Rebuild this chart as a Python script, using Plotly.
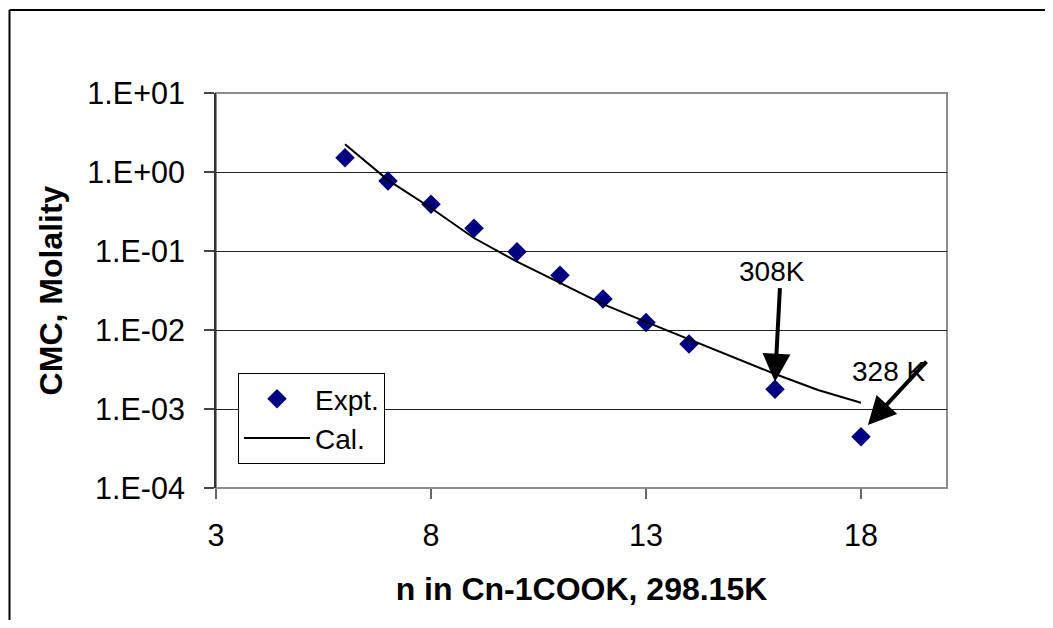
import plotly.graph_objects as go

# Data
n_expt = [6, 7, 8, 9, 10, 11, 12, 13, 14, 16, 18]
cmc_expt = [1.52, 0.77, 0.39, 0.194, 0.098, 0.0492, 0.0247, 0.0124, 0.00665, 0.00178, 0.000446]

n_cal = [6, 7, 8, 9, 10, 11, 12, 13, 14, 15, 16, 17, 18]
cmc_cal = [2.24, 0.79, 0.35, 0.146, 0.0732, 0.0394, 0.0213, 0.0127, 0.00769, 0.00459, 0.00277, 0.00174, 0.00120]

y_tickvals = [1e-4, 1e-3, 1e-2, 1e-1, 1e0, 1e1]
y_ticktext = ["1.E-04", "1.E-03", "1.E-02", "1.E-01", "1.E+00", "1.E+01"]
x_tickvals = [3, 8, 13, 18]

FONT = "Liberation Sans, Arial, sans-serif"

# layout geometry (pixels, in window coords; page body has 8px offset)
OFF = 8
W, H = 1053 - OFF, 628 - 2 * OFF
L, R, T, B = 216, 947, 93, 488
pw, ph = R - L, B - T


def px_x(px):
    return (px - L) / pw


def px_y(py):
    return (B - py) / ph


fig = go.Figure()
fig.add_trace(go.Scatter(
    x=n_expt, y=cmc_expt, mode="markers", name="Expt.",
    marker=dict(symbol="diamond", size=15, color="#000080"),
))
fig.add_trace(go.Scatter(
    x=n_cal, y=cmc_cal, mode="lines", name="Cal.",
    line=dict(color="black", width=2),
))

fig.update_layout(
    width=W, height=H,
    margin=dict(l=L - OFF, r=W - (R - OFF), t=T - OFF, b=H - (B - OFF), pad=0),
    paper_bgcolor="white", plot_bgcolor="white",
    font=dict(family=FONT, size=28, color="black"),
    showlegend=True,
    legend=dict(
        x=px_x(238), y=px_y(373), xanchor="left", yanchor="top",
        bgcolor="white", bordercolor="black", borderwidth=1,
        font=dict(family=FONT, size=28, color="black"),
        itemwidth=66, tracegroupgap=0,
    ),
    xaxis=dict(
        range=[3, 20], tickvals=x_tickvals, ticks="outside", ticklen=10,
        tickcolor="#666", tickwidth=1.5, showgrid=False, zeroline=False,
        showline=False, tickfont=dict(family=FONT, size=30.5),
        ticklabelstandoff=10,
        title=dict(text="<b>n in Cn-1COOK, 298.15K</b>",
                   font=dict(family=FONT, size=32), standoff=27),
    ),
    yaxis=dict(
        type="log", range=[-4, 1], tickvals=y_tickvals, ticktext=y_ticktext,
        ticks="outside", ticklen=10, tickcolor="#444", tickwidth=1.5,
        showgrid=True, gridcolor="#222", gridwidth=1, zeroline=False,
        showline=True, linecolor="#333", linewidth=2,
        tickfont=dict(family=FONT, size=30.5), ticklabelstandoff=13,
        title=dict(text="<b>CMC, Molality</b>",
                   font=dict(family=FONT, size=32), standoff=15),
    ),
    shapes=[
        # plot area border
        dict(type="rect", xref="paper", yref="paper", x0=0, x1=1, y0=0, y1=1,
             line=dict(color="#8c8c8c", width=2), layer="below"),
        # outer chart border (top and left edges visible)
        dict(type="line", xref="paper", yref="paper",
             x0=px_x(9.5), x1=px_x(1080), y0=px_y(10), y1=px_y(10),
             line=dict(color="black", width=2)),
        dict(type="line", xref="paper", yref="paper",
             x0=px_x(9.5), x1=px_x(9.5), y0=px_y(10), y1=px_y(660),
             line=dict(color="black", width=2)),
    ],
    annotations=[
        dict(x=16, y=-2.654, xref="x", yref="y", text="", showarrow=True,
             arrowhead=2, arrowsize=1.4, arrowwidth=4, arrowcolor="black",
             ax=5, ay=-95),
        dict(x=16, y=-1.48, xref="x", yref="y", text="308K", showarrow=False,
             yanchor="bottom", xshift=-3, font=dict(family=FONT, size=28)),
        dict(x=18.16, y=-3.203, xref="x", yref="y", text="", showarrow=True,
             arrowhead=2, arrowsize=1.4, arrowwidth=4, arrowcolor="black",
             ax=60, ay=-65),
        dict(x=18.65, y=-2.53, xref="x", yref="y", text="328 K", showarrow=False,
             font=dict(family=FONT, size=28)),
    ],
)

fig.write_html("out.html")
